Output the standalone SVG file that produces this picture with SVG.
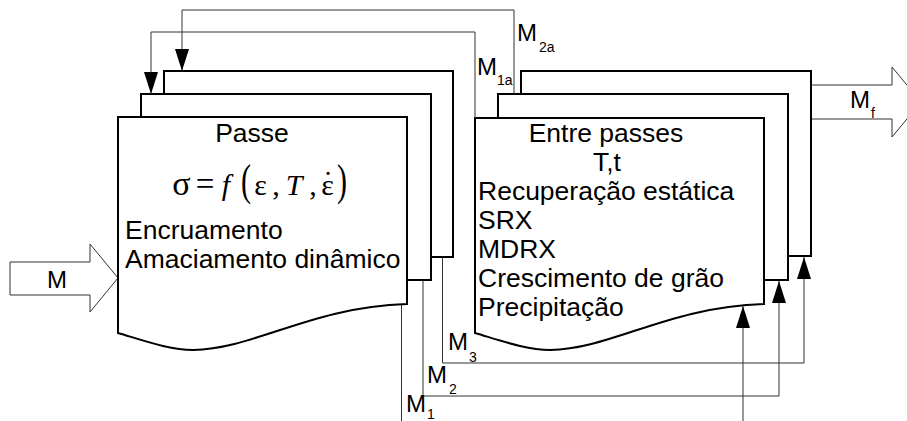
<svg xmlns="http://www.w3.org/2000/svg" width="907" height="421" viewBox="0 0 907 421">
  <defs>
    <marker id="arrow" viewBox="0 0 22 14" refX="22" refY="7" markerWidth="22" markerHeight="14" markerUnits="userSpaceOnUse" orient="auto">
      <path d="M0,0 L22,7 L0,14 Z" fill="#000"/>
    </marker>
    <style>
      .page { fill: #fff; stroke: #000; stroke-width: 2; stroke-linejoin: miter; }
      .wire { fill: none; stroke: #333; stroke-width: 1; }
      .flow { fill: #fff; stroke: #333; stroke-width: 1; }
      .txt { font-family: "Liberation Sans", Arial, sans-serif; font-size: 26.5px; fill: #000; }
      .lbl { font-family: "Liberation Sans", Arial, sans-serif; font-size: 24px; fill: #000; }
      .sub { font-family: "Liberation Sans", Arial, sans-serif; font-size: 14px; fill: #000; }
      .math { font-family: "Liberation Serif", "Times New Roman", serif; font-size: 30px; fill: #000; text-anchor: middle; }
      .it { font-style: italic; }
    </style>
  </defs>

  <!-- input and output flow arrows -->
  <g id="input-M">
    <path class="flow" d="M10,262 L90,262 L90,244 L118,278 L90,312 L90,295 L10,295 Z"/>
    <text class="lbl" x="47" y="288">M</text>
  </g>
  <g id="output-Mf">
    <path class="flow" d="M812,85 L892,85 L892,67 L921,102 L892,137 L892,119 L812,119"/>
    <text class="lbl" x="850" y="108">M</text>
    <text class="sub" x="871" y="118">f</text>
  </g>

  <!-- pass stage: stacked pages -->
  <g id="passe">
    <rect class="page" x="164" y="71" width="289" height="186"/>
    <rect class="page" x="141" y="94" width="290" height="186"/>
    <path class="page" d="M118,117 L407,117 L407,304 C310,307 255,349 193,350 C170,350 145,341 118,333 Z"/>
    <text class="txt" x="252" y="142" text-anchor="middle">Passe</text>
    <g id="formula">
      <text class="math" x="181.5" y="195" style="font-size:34px">σ</text>
      <text class="math" x="205" y="195" style="font-size:33px">=</text>
      <text class="math it" x="226" y="195">f</text>
      <text class="math" transform="translate(246,195) scale(1,1.5)" x="0" y="0">(</text>
      <text class="math" x="260.5" y="195">ε</text>
      <text class="math" x="276" y="195">,</text>
      <text class="math it" x="294" y="195">T</text>
      <text class="math" x="313" y="195">,</text>
      <text class="math" x="327.5" y="195">ε</text>
      <text class="math" x="328" y="192">˙</text>
      <text class="math" transform="translate(342,195) scale(1,1.5)" x="0" y="0">)</text>
    </g>
    <text class="txt" x="125" y="239">Encruamento</text>
    <text class="txt" x="125" y="268">Amaciamento dinâmico</text>
  </g>

  <!-- inter-pass stage: stacked pages -->
  <g id="entre-passes">
    <rect class="page" x="521" y="71" width="290" height="185"/>
    <rect class="page" x="498" y="94" width="290" height="186"/>
    <path class="page" d="M475,118 L764,118 L764,304 C667,307 612,349 550,350 C527,350 502,341 475,333 Z"/>
    <text class="txt" x="606" y="142" text-anchor="middle">Entre passes</text>
    <text class="txt" x="607" y="171" text-anchor="middle">T,t</text>
    <text class="txt" x="478" y="200">Recuperação estática</text>
    <text class="txt" x="478" y="229">SRX</text>
    <text class="txt" x="478" y="258">MDRX</text>
    <text class="txt" x="478" y="287">Crescimento de grão</text>
    <text class="txt" x="478" y="316">Precipitação</text>
  </g>

  <!-- connectors between the two stages -->
  <g id="connectors">
    <path class="wire" d="M514,94 L514,10 L182,10 L182,71" marker-end="url(#arrow)"/>
    <path class="wire" d="M475,118 L475,32 L151,32 L151,94" marker-end="url(#arrow)"/>
    <path class="wire" d="M401.5,305 L401.5,421"/>
    <path class="wire" d="M743,421 L743,306" marker-end="url(#arrow)"/>
    <path class="wire" d="M423,281 L423,396 L779,396 L779,281" marker-end="url(#arrow)"/>
    <path class="wire" d="M442.5,258 L442.5,363 L804,363 L804,257" marker-end="url(#arrow)"/>
  </g>

  <!-- connector labels -->
  <g id="labels">
    <text class="lbl" x="517" y="41">M</text>
    <text class="sub" x="539" y="52">2a</text>
    <text class="lbl" x="477" y="75">M</text>
    <text class="sub" x="497" y="85">1a</text>
    <text class="lbl" x="448" y="350">M</text>
    <text class="sub" x="469" y="362">3</text>
    <text class="lbl" x="427" y="383">M</text>
    <text class="sub" x="449" y="394">2</text>
    <text class="lbl" x="406" y="412">M</text>
    <text class="sub" x="427" y="419">1</text>
  </g>
</svg>
